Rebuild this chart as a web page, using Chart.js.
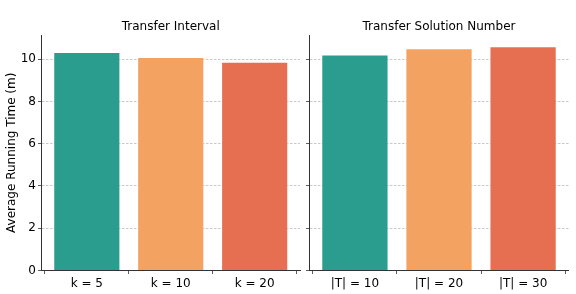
<!DOCTYPE html>
<html>
<head>
<meta charset="utf-8">
<script src="https://cdn.jsdelivr.net/npm/chart.js@4"></script>
<style>
  html, body { margin: 0; padding: 0; background: #fff; }
  #wrap { position: relative; width: 576px; height: 294px; }
  .panel { position: absolute; top: 0; height: 294px; }
  #p1 { left: 0; width: 303px; }
  #p2 { left: 303px; width: 273px; }
</style>
</head>
<body>
<div id="wrap">
  <div class="panel" id="p1"><canvas id="c1"></canvas></div>
  <div class="panel" id="p2"><canvas id="c2"></canvas></div>
</div>
<script>
// ---- data ----
const intervalLabels = ['k = 5', 'k = 10', 'k = 20'];
const intervalValues = [10.33, 10.10, 9.88];
const solutionLabels = ['|T| = 10', '|T| = 20', '|T| = 30'];
const solutionValues = [10.22, 10.51, 10.61];
const yTickValues = [0, 2, 4, 6, 8, 10];
const yMax = 11.14;
const barColors = ['#2a9d8f', '#f4a261', '#e76f51'];
const panelTitles = ['Transfer Interval', 'Transfer Solution Number'];
const yTitle = 'Average Running Time (m)';

Chart.defaults.font.family = "'DejaVu Sans', sans-serif";
Chart.defaults.font.size = 12;
Chart.defaults.color = '#000';
Chart.defaults.animation = false;

const gridGray = 'rgba(165,165,165,0.75)';
const spine = '#333';

function makeChart(canvasId, labels, values, title, isLeft) {
  const data = values.map((v, i) => ({ x: i, y: v }));
  return new Chart(document.getElementById(canvasId), {
    type: 'bar',
    data: {
      datasets: [{
        data: data,
        backgroundColor: barColors,
        borderColor: 'rgba(255,255,255,0.35)',
        borderWidth: 1,
        barPercentage: 0.8,
        categoryPercentage: 1.0
      }]
    },
    options: {
      responsive: true,
      maintainAspectRatio: false,
      layout: { padding: { left: 0, right: isLeft ? 3 : 7.5, top: 0, bottom: 0 } },
      plugins: {
        legend: { display: false },
        tooltip: { enabled: false },
        title: {
          display: true,
          text: title,
          fullSize: false,
          color: '#000',
          font: { size: 12, weight: 'normal' },
          padding: { top: 20, bottom: 0.6 }
        }
      },
      scales: {
        x: {
          type: 'linear',
          min: -0.54,
          max: 2.54,
          offset: false,
          afterBuildTicks: (s) => { s.ticks = labels.map((_, i) => ({ value: i })); },
          afterFit: (s) => { s.height = 23.5; },
          ticks: {
            callback: (v) => labels[v] !== undefined ? labels[v] : '',
            padding: 3,
            maxRotation: 0,
            autoSkip: false,
            color: '#000',
            font: { size: 12 }
          },
          grid: {
            display: true,
            drawOnChartArea: false,
            drawTicks: true,
            tickLength: 3.5,
            tickColor: spine,
            tickWidth: 0.8
          },
          border: { display: true, color: spine, width: 1 }
        },
        y: {
          min: 0,
          max: yMax,
          z: 1,
          afterBuildTicks: (s) => { s.ticks = yTickValues.map(v => ({ value: v })); },
          afterFit: (s) => { s.width = isLeft ? 41.5 : 6.5; },
          ticks: {
            display: isLeft,
            padding: 2,
            color: '#000',
            font: { size: 12 }
          },
          title: {
            display: isLeft,
            text: yTitle,
            color: '#000',
            font: { size: 12 },
            padding: { top: 5, bottom: 0 }
          },
          grid: {
            drawTicks: true,
            tickLength: 3.5,
            tickColor: spine,
            tickWidth: 0.8,
            lineWidth: 0.8,
            color: (ctx) => (ctx.tick && ctx.tick.value === 0) ? 'rgba(0,0,0,0)' : gridGray
          },
          border: { display: true, color: spine, width: 1, dash: [2.5, 1.5] }
        }
      }
    }
  });
}

makeChart('c1', intervalLabels, intervalValues, panelTitles[0], true);
makeChart('c2', solutionLabels, solutionValues, panelTitles[1], false);
</script>
</body>
</html>
